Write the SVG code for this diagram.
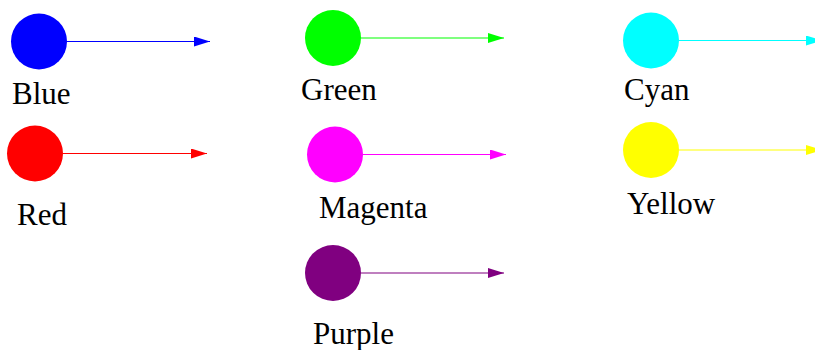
<svg xmlns="http://www.w3.org/2000/svg" width="815" height="350" viewBox="0 0 815 350">
<style>
  text { font-size: 31px; fill: #000; }
  .edge { fill: none; stroke-width: 1.2; }
</style>
<defs>
  <marker id="m-blue" markerUnits="userSpaceOnUse" markerWidth="16" markerHeight="10" refX="16" refY="5" orient="auto"><path d="M0,0 L16,5 L0,10 z" fill="#0000ff"/></marker>
  <marker id="m-green" markerUnits="userSpaceOnUse" markerWidth="16" markerHeight="10" refX="16" refY="5" orient="auto"><path d="M0,0 L16,5 L0,10 z" fill="#00ff00"/></marker>
  <marker id="m-cyan" markerUnits="userSpaceOnUse" markerWidth="16" markerHeight="10" refX="16" refY="5" orient="auto"><path d="M0,0 L16,5 L0,10 z" fill="#00ffff"/></marker>
  <marker id="m-red" markerUnits="userSpaceOnUse" markerWidth="16" markerHeight="10" refX="16" refY="5" orient="auto"><path d="M0,0 L16,5 L0,10 z" fill="#ff0000"/></marker>
  <marker id="m-magenta" markerUnits="userSpaceOnUse" markerWidth="16" markerHeight="10" refX="16" refY="5" orient="auto"><path d="M0,0 L16,5 L0,10 z" fill="#ff00ff"/></marker>
  <marker id="m-yellow" markerUnits="userSpaceOnUse" markerWidth="16" markerHeight="10" refX="16" refY="5" orient="auto"><path d="M0,0 L16,5 L0,10 z" fill="#ffff00"/></marker>
  <marker id="m-purple" markerUnits="userSpaceOnUse" markerWidth="16" markerHeight="10" refX="16" refY="5" orient="auto"><path d="M0,0 L16,5 L0,10 z" fill="#800080"/></marker>
</defs>
<g id="connectors">
  <path class="edge" d="M67,41.5 L210,41.5" stroke="#0000ff" marker-end="url(#m-blue)"/>
  <path class="edge" d="M361,38 L504,38" stroke="#00ff00" marker-end="url(#m-green)"/>
  <path class="edge" d="M679,40.5 L822,40.5" stroke="#00ffff" marker-end="url(#m-cyan)"/>
  <path class="edge" d="M63,153.5 L207,153.5" stroke="#ff0000" marker-end="url(#m-red)"/>
  <path class="edge" d="M363,154.5 L506,154.5" stroke="#ff00ff" marker-end="url(#m-magenta)"/>
  <path class="edge" d="M679,150 L822,150" stroke="#ffff00" marker-end="url(#m-yellow)"/>
  <path class="edge" d="M361,273 L504,273" stroke="#800080" marker-end="url(#m-purple)"/>
</g>
<g font-family="'Liberation Serif', 'DejaVu Serif', serif">
<g id="blue"><circle cx="39" cy="41.5" r="28" fill="#0000ff"/><text x="12" y="104">Blue</text></g>
<g id="green"><circle cx="333" cy="38" r="28" fill="#00ff00"/><text x="301" y="100">Green</text></g>
<g id="cyan"><circle cx="651" cy="40.5" r="28" fill="#00ffff"/><text x="624" y="100">Cyan</text></g>
<g id="red"><circle cx="35" cy="153.5" r="28" fill="#ff0000"/><text x="17" y="225">Red</text></g>
<g id="magenta"><circle cx="335" cy="154.5" r="28" fill="#ff00ff"/><text x="319" y="218">Magenta</text></g>
<g id="yellow"><circle cx="651" cy="150" r="28" fill="#ffff00"/><text x="627" y="214">Yellow</text></g>
<g id="purple"><circle cx="333" cy="273" r="28" fill="#800080"/><text x="313" y="344">Purple</text></g>
</g>
</svg>
